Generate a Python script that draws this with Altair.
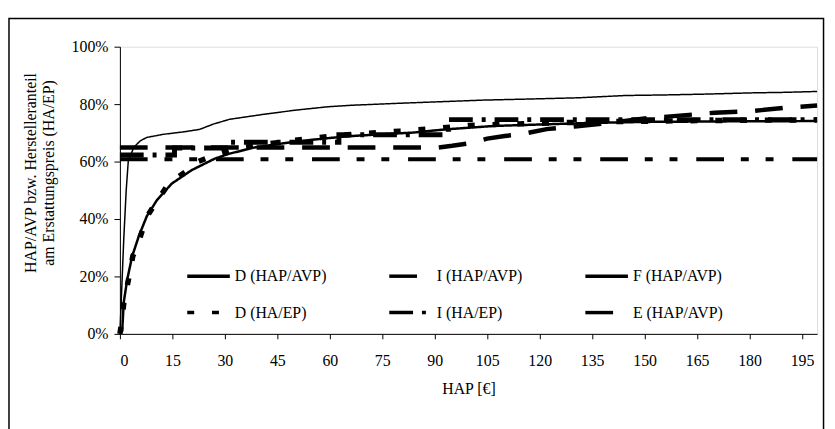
import altair as alt
import pandas as pd

series_order = ["D (HAP/AVP)", "I (HAP/AVP)", "F (HAP/AVP)", "D (HA/EP)", "I (HA/EP)", "E (HAP/AVP)"]

# D (HAP/AVP)
d_hap_x = [0, 0.65, 1.1, 2.1, 3.5, 5.4, 7.7, 10.6, 14.8, 20.5, 27.1, 30.9, 38, 47, 55, 65, 75, 84, 93, 107, 120, 133, 150, 175, 199.3]
d_hap_y = [0, 1, 11, 19, 27, 34, 41, 46.6, 52.3, 57, 61, 62.6, 64.8, 66.4, 67.6, 68.8, 69.5, 70.1, 71.2, 72.4, 72.9, 73.4, 73.8, 74.0, 74.1]

# D (HA/EP)
d_ha_x = [0, 0.5, 1.13, 2.55, 3.68, 5.85, 7.7, 10.8, 13.9, 18.6, 21.9, 27.5, 32, 40, 50, 60, 70, 80, 90, 100, 110, 125, 140, 160, 180, 199.3]
d_ha_y = [0, 4, 10.9, 19.5, 27, 33.9, 40.8, 46.6, 52.3, 56.3, 59.8, 62.4, 64.2, 65.8, 67.4, 68.8, 69.8, 70.6, 71.5, 72.6, 73.0, 73.5, 73.9, 74.2, 74.4, 74.5]

# F (HAP/AVP)
f_hap_x = [0, 0.4, 1.1, 1.8, 2.4, 4, 5.8, 7.7, 12.5, 18, 22.8, 26.6, 31.3, 40.8, 50.2, 59.6, 66.2, 80, 93, 104, 118, 131, 144.5, 156, 168, 180, 190, 199.3]
f_hap_y = [0, 12, 33, 50, 60.3, 65, 67.2, 68.4, 69.5, 70.3, 71.2, 73, 74.7, 76.4, 77.9, 79.1, 79.6, 80.3, 80.9, 81.4, 81.8, 82.2, 83.0, 83.2, 83.5, 83.9, 84.1, 84.4]

# I (HAP/AVP)
i_hap_x = [0, 199.3]
i_hap_y = [60.8, 60.8]

# I (HA/EP)
i_ha_x = [0, 15.6, 15.6, 31.3, 31.3, 62.6, 62.6, 93.9, 93.9, 199.3]
i_ha_y = [62.3, 62.3, 64.7, 64.7, 66.7, 66.7, 69.3, 69.3, 74.6, 74.6]

# E (HAP/AVP)
e_hap_x = [0, 91, 95, 100, 105, 110, 115, 122, 130, 140, 150, 160, 170, 180, 190, 199.3]
e_hap_y = [64.9, 64.9, 65.5, 66.4, 68.0, 68.9, 69.6, 71.3, 72.2, 73.5, 75.0, 76.0, 77.0, 77.5, 78.7, 79.5]

x_ticks = list(range(0, 196, 15))
y_ticks = [0, 20, 40, 60, 80, 100]

series_data = [
    ("I (HAP/AVP)", i_hap_x, i_hap_y),
    ("I (HA/EP)", i_ha_x, i_ha_y),
    ("E (HAP/AVP)", e_hap_x, e_hap_y),
    ("F (HAP/AVP)", f_hap_x, f_hap_y),
    ("D (HAP/AVP)", d_hap_x, d_hap_y),
    ("D (HA/EP)", d_ha_x, d_ha_y),
]

rows = []
for name, xs, ys in series_data:
    for i, (a, b) in enumerate(zip(xs, ys)):
        rows.append({"series": name, "x": a, "y": b, "i": i})
df = pd.DataFrame(rows)

# styles, in series_order
dashes = [[1, 0], [28, 17, 8, 17, 8, 19], [1, 0], [7, 18], [24, 9, 4, 9], [28, 18]]
widths = [2.5, 4.0, 1.5, 5.5, 5.0, 4.5]

serif = "Liberation Serif"

leg = alt.Legend(
    title=None, orient="none", legendX=66, legendY=208, direction="horizontal", columns=3,
    symbolType="stroke", symbolSize=1849, symbolStrokeColor="black", symbolStrokeWidth=3.5,
    labelFont=serif, labelFontSize=16, labelColor="black", labelOffset=3,
    columnPadding=56, rowPadding=5, labelLimit=300,
)

lines = alt.Chart(df).mark_line(color="black").encode(
    x=alt.X("x:Q", scale=alt.Scale(domain=[0, 199.3], nice=False, zero=False),
            axis=alt.Axis(values=x_ticks, title="HAP [€]", grid=False, tickSize=5,
                          labelFont=serif, labelFontSize=16, labelColor="black", labelPadding=14,
                          tickColor="black", domainColor="black", titleFont=serif, titleFontSize=16,
                          titleFontWeight="normal", titleColor="black", titleY=55, titleBaseline="middle")),
    y=alt.Y("y:Q", scale=alt.Scale(domain=[0, 100], nice=False),
            axis=alt.Axis(values=y_ticks, labelExpr="datum.value + '%'", grid=False, tickSize=6,
                          labelFont=serif, labelFontSize=16, labelColor="black", labelPadding=6,
                          tickColor="black", domainColor="black",
                          title=["HAP/AVP bzw. Herstelleranteil", "am Erstattungspreis (HA/EP)"],
                          titleFont=serif, titleFontSize=16, titleFontWeight="normal", titleColor="black",
                          titleX=-90, titleY=127, titleAlign="center", titleBaseline="middle",
                          titleLineHeight=18)),
    strokeDash=alt.StrokeDash("series:N", scale=alt.Scale(domain=series_order, range=dashes), legend=leg),
    strokeWidth=alt.StrokeWidth("w:Q", scale=None, legend=None),
    order="i:Q",
).transform_lookup(
    lookup="series",
    from_=alt.LookupData(pd.DataFrame({"series": series_order, "w": widths}), "series", ["w"]),
)

frame = alt.Chart(pd.DataFrame({"a": [0]})).mark_rect(fillOpacity=0, stroke="black", strokeWidth=1.5).encode(
    x=alt.value(-112), x2=alt.value(710.5), y=alt.value(-28.5), y2=alt.value(420)
)

chart = alt.layer(frame, lines).properties(
    width=704, height=290,
    autosize=alt.AutoSizeParams(type="none"),
    padding={"left": 113, "top": 37, "right": 10, "bottom": 94},
).configure_view(stroke="black", strokeWidth=1).configure(background="white")

chart.save("out.html", embed_options={"renderer": "svg", "actions": False})
